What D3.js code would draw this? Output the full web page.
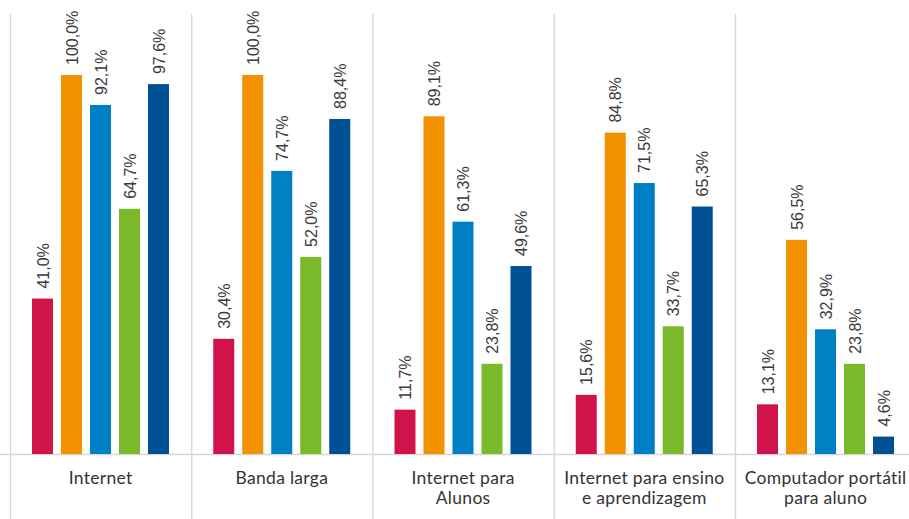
<!DOCTYPE html>
<html><head><meta charset="utf-8">
<script src="https://cdn.jsdelivr.net/npm/d3@7"></script>
<style>html,body{margin:0;padding:0;background:#fff;}</style>
</head><body>
<svg id="c" width="909" height="519"></svg>
<script>
const categories = [["Internet"],["Banda larga"],["Internet para","Alunos"],["Internet para ensino","e aprendizagem"],["Computador portátil","para aluno"]];
const seriesNames = ["S1","S2","S3","S4","S5"];
const seriesColors = ["#D0144B","#F39200","#0080C4","#7AB929","#005096"];
const s1 = [41.0,30.4,11.7,15.6,13.1];
const s2 = [100.0,100.0,89.1,84.8,56.5];
const s3 = [92.1,74.7,61.3,71.5,32.9];
const s4 = [64.7,52.0,23.8,33.7,23.8];
const s5 = [97.6,88.4,49.6,65.3,4.6];
const seriesValues = [s1,s2,s3,s4,s5];

const svg = d3.select("#c");
const x0 = d3.scaleBand().domain(d3.range(categories.length)).range([10, 916.25]).padding(0);
const x1 = d3.scaleBand().domain(d3.range(seriesNames.length)).range([22, 159]).paddingInner(8/29).paddingOuter(0);
const y = d3.scaleLinear().domain([0,100]).range([454, 75]);

svg.selectAll("line.sep").data(d3.range(categories.length)).join("line")
  .attr("x1", d=>x0(d)+0.5).attr("x2", d=>x0(d)+0.5).attr("y1",14).attr("y2",519)
  .attr("stroke","#d6d6d6").attr("stroke-width",1.3);
svg.append("line").attr("x1",0).attr("x2",909).attr("y1",454.5).attr("y2",454.5)
  .attr("stroke","#d6d6d6").attr("stroke-width",1.3);

const fmt = v => v.toFixed(1).replace(".", ",") + "%";

categories.forEach((cat, ci) => {
  const g = svg.append("g").attr("transform", `translate(${x0(ci)},0)`);
  seriesValues.forEach((vals, si) => {
    const v = vals[ci];
    g.append("rect").attr("x", x1(si)).attr("width", x1.bandwidth())
      .attr("y", y(v)).attr("height", y(0)-y(v)).attr("fill", seriesColors[si]);
    const cx = x1(si) + x1.bandwidth()/2;
    g.append("text")
      .attr("transform", `translate(${cx+6},${y(v)-10}) rotate(-90)`)
      .attr("text-anchor","start")
      .attr("font-family","Liberation Sans, Arial, sans-serif")
      .attr("font-size",16).attr("fill","#3a3a3a")
      .text(fmt(v));
  });
  const t = g.append("text").attr("text-anchor","middle")
    .attr("font-family","Lato, sans-serif").attr("font-size",17.5)
    .attr("letter-spacing","0.3px").attr("fill","#333");
  cat.forEach((line, li) => {
    t.append("tspan").attr("x", x0.bandwidth()/2).attr("y", 484 + li*20).text(line);
  });
});
</script>
</body></html>
